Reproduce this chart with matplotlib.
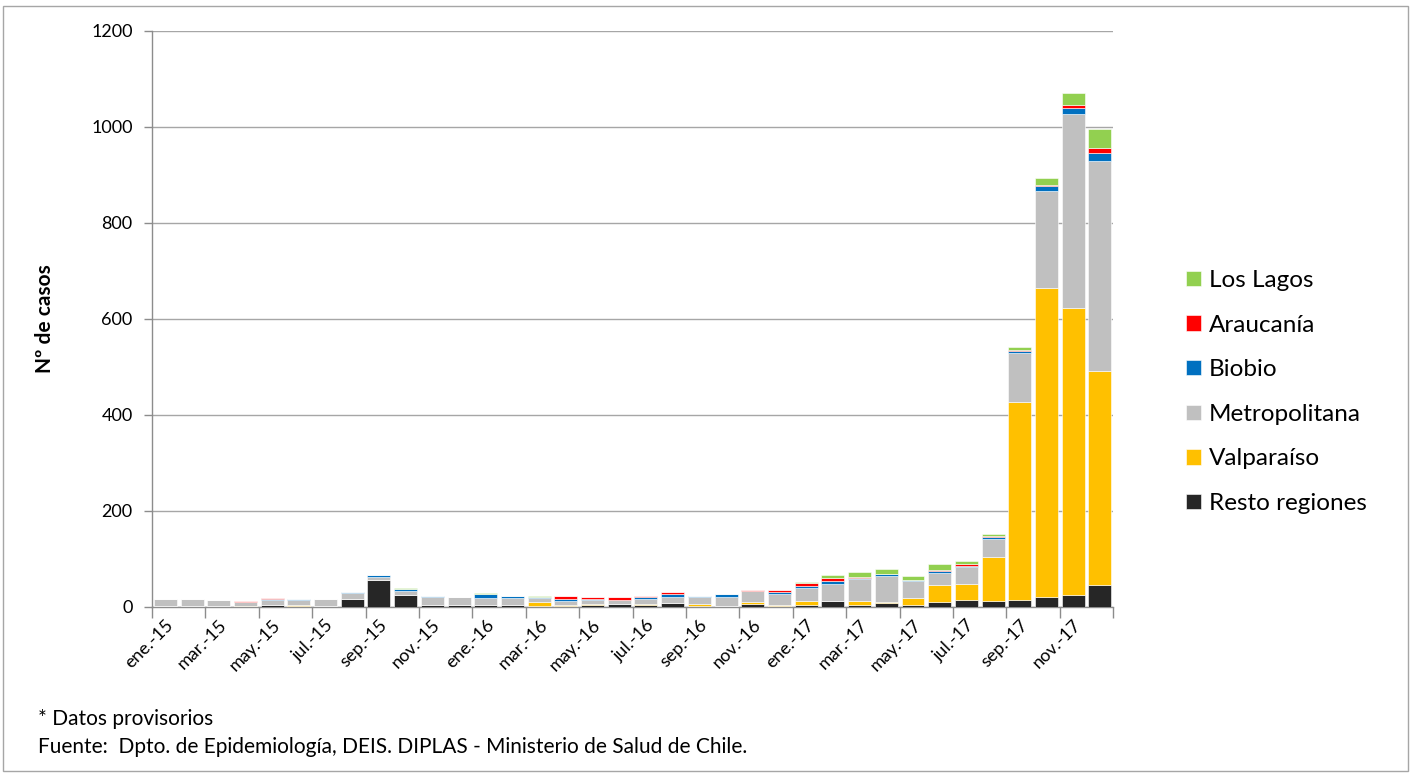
import numpy as np
import matplotlib
matplotlib.use("Agg")
import matplotlib.pyplot as plt
from matplotlib.patches import Rectangle

plt.rcParams['font.family'] = ['Lato', 'DejaVu Sans']

meses = ["ene", "feb", "mar", "abr", "may", "jun", "jul", "ago", "sep", "oct", "nov", "dic"]
categorias = [f"{m}.-{a}" for a in ["15", "16", "17"] for m in meses]

resto = [2, 1, 1, 0, 4, 2, 1, 17, 56, 25, 5, 4,
         5, 4, 3, 2, 5, 6, 5, 8, 3, 1, 6, 2,
         5, 12, 4, 9, 5, 11, 14, 13, 14, 20, 25, 45]
valparaiso = [1, 1, 1, 3, 1, 2, 0, 0, 0, 0, 0, 1,
              0, 1, 7, 3, 1, 1, 1, 1, 3, 0, 5, 3,
              8, 1, 8, 2, 14, 34, 34, 92, 414, 645, 598, 447]
metropolitana = [13, 14, 12, 8, 10, 11, 15, 12, 6, 8, 15, 15,
                 13, 14, 8, 7, 8, 8, 11, 12, 14, 19, 22, 23,
                 26, 35, 47, 53, 35, 26, 35, 37, 102, 202, 403, 438]
biobio = [0, 1, 1, 0, 1, 1, 1, 3, 5, 4, 2, 0,
          10, 3, 3, 4, 3, 0, 3, 6, 2, 8, 0, 4,
          4, 7, 2, 5, 3, 4, 3, 4, 4, 11, 14, 16]
araucania = [1, 0, 0, 1, 2, 0, 0, 0, 0, 1, 0, 0,
             0, 0, 0, 7, 3, 5, 2, 4, 0, 0, 2, 3,
             6, 5, 1, 0, 0, 3, 3, 1, 1, 2, 5, 11]
los_lagos = [0, 0, 0, 0, 0, 1, 0, 0, 0, 2, 0, 0,
             2, 1, 2, 0, 0, 0, 1, 1, 0, 0, 0, 0,
             2, 6, 10, 11, 8, 12, 6, 5, 7, 14, 25, 39]

series = [
    ("Resto regiones", resto, "#262626"),
    ("Valparaíso", valparaiso, "#FFC000"),
    ("Metropolitana", metropolitana, "#C0C0C0"),
    ("Biobio", biobio, "#0070C0"),
    ("Araucanía", araucania, "#FF0000"),
    ("Los Lagos", los_lagos, "#92D050"),
]

fig = plt.figure(figsize=(14.11, 7.74), dpi=100)
ax = fig.add_axes([0.1077, 0.2158, 0.789 - 0.1077, 0.96 - 0.2158])

x = np.arange(len(categorias))
bottom = np.zeros(len(categorias))
handles = []
for name, vals, color in series:
    b = ax.bar(x, vals, width=0.86, bottom=bottom, color=color,
               edgecolor="white", linewidth=0.4, label=name, zorder=3)
    handles.append(b)
    bottom += np.array(vals)

ax.set_xlim(-0.5, len(categorias) - 0.5)
ax.set_ylim(0, 1200)
ax.set_yticks(range(0, 1201, 200))
ax.yaxis.grid(True, color="#A6A6A6", linewidth=1.0, zorder=0)
ax.set_axisbelow(True)

# ticks between categories, labels centred on every other month
ax.set_xticks(np.arange(-0.5, len(categorias), 2))
ax.set_xticklabels([])
ax.set_xticks(x[::2], minor=True)
ax.set_xticklabels(categorias[::2], minor=True, rotation=45, ha="right",
                   rotation_mode="anchor", fontsize=13)
ax.tick_params(axis="x", which="minor", length=0, pad=7)
ax.tick_params(axis="x", which="major", length=8, color="#8C8C8C", width=1)
ax.tick_params(axis="y", length=6, color="#8C8C8C", width=1, labelsize=13, pad=8)

for side in ["top", "right"]:
    ax.spines[side].set_visible(False)
for side in ["left", "bottom"]:
    ax.spines[side].set_color("#8C8C8C")
    ax.spines[side].set_linewidth(1)

ax.set_ylabel("Nº de casos", fontsize=15, fontweight="bold", labelpad=26)

fig.legend(handles[::-1], [s[0] for s in series][::-1],
           loc="center left", bbox_to_anchor=(0.8405, 0.4935), frameon=False,
           fontsize=17.5, handlelength=0.6, handleheight=0.6,
           handletextpad=0.35, labelspacing=0.97, borderpad=0, borderaxespad=0)

fig.text(0.027, 0.063, "* Datos provisorios", fontsize=15)
fig.text(0.027, 0.027, "Fuente:  Dpto. de Epidemiología, DEIS. DIPLAS - Ministerio de Salud de Chile.",
         fontsize=15)

fig.patches.append(Rectangle((0.002, 0.004), 0.996, 0.988, transform=fig.transFigure,
                             fill=False, edgecolor="#A6A6A6", linewidth=1))

fig.savefig("out.png", dpi=100)
